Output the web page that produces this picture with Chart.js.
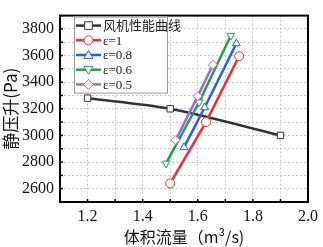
<!DOCTYPE html>
<html><head><meta charset="utf-8">
<script src="https://cdn.jsdelivr.net/npm/chart.js@4/dist/chart.umd.min.js"></script>
<style>html,body{margin:0;padding:0;background:#fff}#wrap{width:323px;height:247px}</style>
</head><body><div id="wrap"><canvas id="c" width="323" height="247"></canvas></div>
<script>
const seriesLabels = ['风机性能曲线', 'ε=1', 'ε=0.8', 'ε=0.6', 'ε=0.5'];
const fanX = [1.2, 1.5, 1.9];
const fanY = [3280, 3200, 3000];
const e1X = [1.50, 1.63, 1.75];
const e1Y = [2640, 3100, 3595];
const e08X = [1.55, 1.625, 1.74];
const e08Y = [2910, 3210, 3690];
const e06X = [1.485, 1.605, 1.72];
const e06Y = [2790, 3250, 3750];
const e05X = [1.52, 1.60, 1.655];
const e05Y = [2965, 3295, 3530];
const xTickLabels = [1.2, 1.4, 1.6, 1.8, 2.0];
const yTickLabels = [2600, 2800, 3000, 3200, 3400, 3600, 3800];

const colors = ['#333333', '#f52a2a', '#1f62e6', '#23a04c', '#a066e0'];
const styles = ['rect', 'circle', 'triangle', 'triangle', 'rectRot'];
const rots = [0, 0, 0, 180, 0];
const xs = [fanX, e1X, e08X, e06X, e05X];
const ys = [fanY, e1Y, e08Y, e06Y, e05Y];

const datasets = seriesLabels.map((lab, i) => ({
  label: lab,
  data: xs[i].map((x, k) => ({x: x, y: ys[i][k]})),
  borderColor: colors[i],
  backgroundColor: '#ffffff',
  borderWidth: 2.5,
  pointStyle: styles[i],
  rotation: rots[i],
  pointRadius: 4.5,
  pointBorderWidth: 1,
  pointBorderColor: colors[i],
  pointBackgroundColor: '#ffffff',
  tension: i === 0 ? 0.3 : 0,
  showLine: true,
  order: 5 - i
}));

function drawMarker(ctx, style, rot, x, y, r) {
  ctx.beginPath();
  if (style === 'circle') { ctx.arc(x, y, r, 0, Math.PI * 2); }
  else if (style === 'rect') { const s = r * 0.85; ctx.rect(x - s, y - s, 2 * s, 2 * s); }
  else if (style === 'rectRot') { ctx.moveTo(x, y - r * 1.1); ctx.lineTo(x + r * 1.1, y); ctx.lineTo(x, y + r * 1.1); ctx.lineTo(x - r * 1.1, y); ctx.closePath(); }
  else if (style === 'triangle') {
    const d = rot === 180 ? -1 : 1;
    ctx.moveTo(x, y - d * r); ctx.lineTo(x + r, y + d * r * 0.75); ctx.lineTo(x - r, y + d * r * 0.75); ctx.closePath();
  }
  ctx.fill(); ctx.stroke();
}

const framePlugin = {
  id: 'frame',
  afterDraw(chart) {
    const ctx = chart.ctx, a = chart.chartArea;
    ctx.save();
    // inward ticks
    ctx.strokeStyle = '#000'; ctx.lineWidth = 1.5;
    const sx = chart.scales.x, sy = chart.scales.y;
    sx.ticks.forEach(t => {
      const p = sx.getPixelForValue(t.value);
      ctx.beginPath(); ctx.moveTo(p, a.bottom); ctx.lineTo(p, a.bottom - 3); ctx.stroke();
    });
    sy.ticks.forEach(t => {
      const p = sy.getPixelForValue(t.value);
      ctx.beginPath(); ctx.moveTo(a.left, p); ctx.lineTo(a.left + 3, p); ctx.stroke();
    });
    ctx.strokeStyle = '#000'; ctx.lineWidth = 2;
    ctx.strokeRect(a.left, a.top, a.right - a.left, a.bottom - a.top);
    // legend
    const lx = a.left + 14, ly = a.top + 1, lw = 93, lh = 76;
    ctx.fillStyle = '#fff'; ctx.fillRect(lx, ly, lw, lh);
    ctx.strokeStyle = '#999'; ctx.lineWidth = 1;
    ctx.strokeRect(lx + 0.5, ly + 0.5, lw, lh);
    chart.data.datasets.forEach((ds, i) => {
      const yy = ly + 9 + i * 14.7;
      ctx.strokeStyle = ds.borderColor; ctx.lineWidth = 2.5;
      ctx.beginPath(); ctx.moveTo(lx + 2, yy); ctx.lineTo(lx + 27, yy); ctx.stroke();
      ctx.fillStyle = '#fff'; ctx.lineWidth = 1;
      drawMarker(ctx, ds.pointStyle, ds.rotation, lx + 14.5, yy, 4.5);
      ctx.fillStyle = '#222';
      ctx.font = '13px "Liberation Serif", "Noto Sans CJK SC", serif';
      ctx.textBaseline = 'middle'; ctx.textAlign = 'left';
      ctx.fillText(ds.label, lx + 29, yy + 1);
    });
    ctx.restore();
  }
};

new Chart(document.getElementById('c'), {
  type: 'scatter',
  data: { datasets },
  plugins: [framePlugin],
  options: {
    responsive: false,
    animation: false,
    devicePixelRatio: 1,
    layout: { padding: { top: 1, right: 15, left: 0, bottom: 0 } },
    plugins: { legend: { display: false }, tooltip: { enabled: false } },
    scales: {
      x: {
        type: 'linear', min: 1.1, max: 2.0,
        afterFit(s) { s.height = 45; },
        afterBuildTicks(s) { const t = []; for (let k = 11; k <= 20; k++) t.push({value: k / 10}); s.ticks = t; },
        ticks: {
          color: '#111', font: { family: '"Liberation Serif", serif', size: 16 }, padding: 5, maxRotation: 0, autoSkip: false,
          callback: (v) => { const m = xTickLabels.find(t => Math.abs(t - v) < 1e-6); return m === undefined ? '' : m.toFixed(1); }
        },
        grid: { color: '#c8c8c8', lineWidth: 1, drawTicks: false },
        border: { display: false, dash: [2, 2] },
        title: { display: true, text: '体积流量（m³/s)', color: '#111', font: { family: '"Noto Sans CJK SC", "Liberation Serif", serif', size: 16 }, padding: { top: 0, bottom: 0 } }
      },
      y: {
        type: 'linear', min: 2500, max: 3900,
        afterFit(s) { s.width = 60; },
        afterBuildTicks(s) { const t = []; for (let v = 2500; v <= 3900; v += 100) t.push({value: v}); s.ticks = t; },
        ticks: {
          color: '#111', font: { family: '"Liberation Serif", serif', size: 16 }, padding: 6, autoSkip: false,
          callback: (v) => yTickLabels.includes(v) ? String(v) : ''
        },
        grid: { color: '#c8c8c8', lineWidth: 1, drawTicks: false },
        border: { display: false, dash: [2, 2] },
        title: { display: true, text: '静压升(Pa)', color: '#111', font: { family: '"Noto Sans CJK SC", "Liberation Serif", serif', size: 17 }, padding: { top: 0, bottom: 0 } }
      }
    }
  }
});
</script></body></html>
